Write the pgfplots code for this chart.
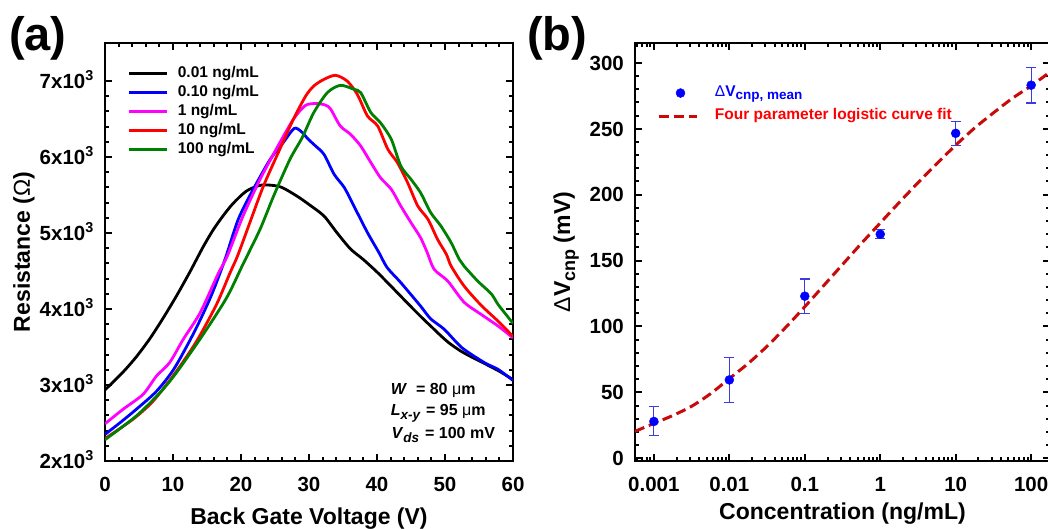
\documentclass[border=0pt]{standalone}
\usepackage{fontspec}
\setmainfont{Liberation Sans}
\usepackage{pgfplots}
\pgfplotsset{compat=1.18}
\definecolor{cBlack}{RGB}{0,0,0}
\definecolor{cBlue}{RGB}{0,0,255}
\definecolor{cMag}{RGB}{255,0,255}
\definecolor{cRed}{RGB}{255,0,0}
\definecolor{cGreen}{RGB}{0,128,0}
\definecolor{cFit}{RGB}{200,10,10}
\definecolor{cErr}{RGB}{60,60,225}
\newcommand{\tk}[1]{#1x10\textsuperscript{3}}
\pgfplotsset{
  mystyle/.style={
    scale only axis,
    axis line style={line width=2.5pt},
    every tick/.style={black, line width=2pt},
    major tick length=7pt, minor tick length=4pt,
    tick align=inside,
    xticklabel style={font=\fontsize{20.5}{24}\selectfont\bfseries, anchor=north, inner sep=0pt, yshift=-16pt, text height=14.7pt, text depth=0pt},
    yticklabel style={font=\fontsize{20.5}{24}\selectfont\bfseries, anchor=east, inner sep=0pt, xshift=-11pt, text height=14.7pt, text depth=0pt},
    scaled ticks=false,
    clip=true,
  },
  dotlegend/.style={legend image code/.code={\draw[##1,mark repeat=2,mark phase=2] plot coordinates {(0pt,0pt)(22pt,0pt)(38pt,0pt)};}},
}
\begin{document}
\begin{tikzpicture}
% ---------------- panel (a)
\begin{axis}[mystyle,
  at={(105pt,68pt)}, anchor=south west, width=408pt, height=418pt,
  xmin=0, xmax=60, ymin=2000, ymax=7500,
  xtick={0,10,20,30,40,50,60}, xticklabels={0,10,20,30,40,50,60},
  minor x tick num=4,
  ytick={2000,3000,4000,5000,6000,7000},
  yticklabels={\tk{2},\tk{3},\tk{4},\tk{5},\tk{6},\tk{7}},
  minor y tick num=4,
  xlabel={Back Gate Voltage (V)},
  xlabel style={at={(axis description cs:0.5,-0.153)}, anchor=base, inner sep=0pt, font=\fontsize{23}{26}\selectfont\bfseries},
  ylabel={Resistance ({\mdseries Ω})},
  ylabel style={at={(axis description cs:-0.184,0.5)}, rotate=0, anchor=base, inner sep=0pt, font=\fontsize{23}{26}\selectfont\bfseries},
  legend style={at={(axis description cs:0.0565,0.945)}, anchor=north west, draw=none, fill=none, inner sep=0pt, outer sep=0pt,
     font=\fontsize{15.5}{18}\selectfont\bfseries, row sep=4pt, column sep=9pt,
     nodes={inner sep=0pt, text height=11.5pt, text depth=3.5pt}},
  legend cell align=left,
  legend image code/.code={\draw[#1] (0pt,0pt) -- (38pt,0pt);},
  every axis plot/.append style={line width=2.8pt, smooth, tension=0.45},
]
\addplot[cBlack] coordinates {(0,2935)(2.65,3170)(4.6,3370)(6.6,3610)(8.55,3880)(10.5,4170)(12.5,4490)(14.45,4820)(15.9,5040)(17.4,5230)(18.8,5385)(20.8,5552)(23,5630)(25.7,5610)(28.2,5487)(30,5375)(32.2,5224)(34.1,5005)(36.1,4790)(38,4650)(40.1,4478)(42.5,4260)(44.9,4039)(46.9,3860)(47.9,3776)(48.9,3689)(50.5,3560)(52.3,3447)(54.3,3350)(56.3,3260)(58.2,3170)(60,3070)};
\addlegendentry{0.01 ng/mL}
\addplot[cBlue] coordinates {(0,2350)(2.3,2510)(4.6,2680)(7.6,2920)(10.2,3220)(13.2,3710)(15.6,4171)(17.6,4640)(19.6,5180)(21.8,5575)(24.3,5970)(26.2,6189)(27.8,6375)(28.8,6340)(29.9,6233)(30.9,6150)(32.2,6035)(33.7,5772)(35.2,5597)(36.6,5355)(38.6,5005)(40.3,4740)(41.5,4544)(43.5,4347)(46.4,4039)(47.9,3870)(49.9,3732)(52.5,3490)(55.8,3294)(57.8,3206)(60,3060)};
\addlegendentry{0.10 ng/mL}
\addplot[cMag] coordinates {(0,2490)(2.65,2680)(5.6,2877)(7.57,3118)(9.5,3294)(11.5,3600)(14,3952)(16.6,4456)(18,4700)(20.3,5224)(22.8,5706)(25.3,6123)(27.7,6496)(29.5,6680)(31.2,6703)(32.5,6680)(33.2,6628)(34.6,6408)(36.1,6299)(37.6,6145)(39.1,5926)(40.5,5729)(42.1,5575)(43.5,5355)(45,5136)(46.4,4939)(47.4,4740)(48.4,4522)(50.4,4368)(52.8,4090)(55.3,3930)(57.8,3776)(60,3620)};
\addlegendentry{1 ng/mL}
\addplot[cRed] coordinates {(0,2295)(4.1,2548)(7.1,2790)(10.5,3180)(13.5,3580)(16.4,4060)(18.4,4478)(19.5,4700)(21.3,5136)(23.3,5618)(25.7,6101)(27.7,6496)(29.5,6800)(30.7,6934)(32.2,7022)(33.9,7075)(35.6,7000)(37.1,6825)(38.6,6539)(40.1,6408)(41.6,6101)(43,5926)(44.5,5663)(46,5355)(47.5,5180)(48.9,4917)(50.2,4720)(50.9,4565)(52.8,4303)(55.3,4050)(57.8,3840)(60,3640)};
\addlegendentry{10 ng/mL}
\addplot[cGreen] coordinates {(0,2280)(4.6,2592)(8.1,2900)(10.5,3162)(14.4,3660)(17.9,4150)(20.3,4590)(22.8,5048)(24.8,5487)(27.2,5970)(29,6255)(30.7,6584)(32.7,6847)(34.6,6943)(36.6,6891)(37.6,6847)(39.1,6584)(40.5,6452)(42.1,6233)(43.5,5882)(45,5706)(46.4,5531)(47.9,5268)(49.4,5092)(50.9,4873)(52.1,4653)(52.8,4565)(54.8,4368)(56.8,4200)(57.8,4060)(59.3,3890)(60,3810)};
\addlegendentry{100 ng/mL}
\node[anchor=base west, inner sep=0pt, font=\fontsize{16}{18}\selectfont\bfseries] at (rel axis cs:0.700,0.158) {\textit{W}\hspace{9pt}= 80 {\mdseries μ}m};
\node[anchor=base west, inner sep=0pt, font=\fontsize{16}{18}\selectfont\bfseries] at (rel axis cs:0.700,0.1077) {\textit{L}\raisebox{-4pt}{\fontsize{13.5}{14}\selectfont\itshape x-y}\hspace{6pt}= 95 {\mdseries μ}m};
\node[anchor=base west, inner sep=0pt, font=\fontsize{16}{18}\selectfont\bfseries] at (rel axis cs:0.702,0.055) {\textit{V}\raisebox{-4pt}{\fontsize{13.5}{14}\selectfont\itshape ds}\hspace{6pt}= 100 mV};
\end{axis}
% ---------------- panel (b)
\begin{axis}[mystyle, xmode=log,
  at={(635pt,68pt)}, anchor=south west, width=415pt, height=418pt,
  xmin=0.000562, xmax=177.8, ymin=-2, ymax=315,
  xtick={0.001,0.01,0.1,1,10,100}, xticklabels={0.001,0.01,0.1,1,10,100},
  minor xtick={0.0006,0.0007,0.0008,0.0009,0.002,0.003,0.004,0.005,0.006,0.007,0.008,0.009,0.02,0.03,0.04,0.05,0.06,0.07,0.08,0.09,0.2,0.3,0.4,0.5,0.6,0.7,0.8,0.9,2,3,4,5,6,7,8,9,20,30,40,50,60,70,80,90},
  ytick={0,50,100,150,200,250,300}, yticklabels={0,50,100,150,200,250,300},
  minor y tick num=4,
  xlabel={Concentration (ng/mL)},
  xlabel style={at={(axis description cs:0.5,-0.141)}, anchor=base, inner sep=0pt, font=\fontsize{23}{26}\selectfont\bfseries},
  ylabel={{\mdseries Δ}V\raisebox{-5pt}{\fontsize{18}{20}\selectfont cnp} (mV)},
  ylabel style={at={(axis description cs:-0.1566,0.5)}, rotate=0, anchor=base, inner sep=0pt, font=\fontsize{23}{26}\selectfont\bfseries},
  legend style={at={(axis description cs:0.053,0.900)}, anchor=north west, draw=none, fill=none, inner sep=0pt, outer sep=0pt,
     font=\fontsize{15.5}{18}\selectfont\bfseries, row sep=6.5pt, column sep=17pt,
     nodes={inner sep=0pt, text height=12pt, text depth=4.5pt}},
  legend cell align=left,
  legend image code/.code={\draw[#1] (0pt,0pt) -- (38pt,0pt);},
]
\addplot[only marks, mark=*, mark size=4.5pt, color=cBlue, mark options={fill=cBlue, draw=cBlue}, dotlegend,
  error bars/.cd, y dir=both, y explicit,
  error bar style={line width=1.1pt, color=cErr},
  error mark options={rotate=90, mark size=5pt, line width=1.1pt, color=cErr},
  ]
  coordinates {(0.001,28) +- (0,11) (0.01,59.5) +- (0,17) (0.1,123) +- (0,13) (1,170) +- (0,3.5) (10,246.5) +- (0,9) (100,283) +- (0,13.5)};
\addlegendentry{\textcolor{cBlue}{{\mdseries Δ}V\raisebox{-3pt}{\fontsize{13.5}{14}\selectfont cnp, mean}}}
\addplot[cFit, line width=3pt, dash pattern=on 10pt off 5pt, smooth]
  coordinates {(0.000562,20.5)(0.001,26.5)(0.00178,32.5)(0.00316,39.5)(0.00562,49)(0.01,60.5)(0.0178,72)(0.0316,85)(0.0562,99.5)(0.1,115)(0.178,131)(0.316,147)(0.562,163)(1,178.5)(1.78,194)(3.16,209)(5.62,223.5)(10,237.5)(17.8,250.5)(31.6,262)(56.2,273)(100,282.5)(177.8,293)};
\addlegendentry{\textcolor{cRed}{Four parameter logistic curve fit}}
\end{axis}
\node[anchor=base west, inner sep=0pt, font=\fontsize{47}{50}\selectfont\bfseries] at (9pt,478pt) {(a)};
\node[anchor=base west, inner sep=0pt, font=\fontsize{47}{50}\selectfont\bfseries] at (527pt,478pt) {(b)};
\pgfresetboundingbox
\path[use as bounding box] (0pt,0pt) rectangle (1048pt,529pt);
\end{tikzpicture}
\end{document}
